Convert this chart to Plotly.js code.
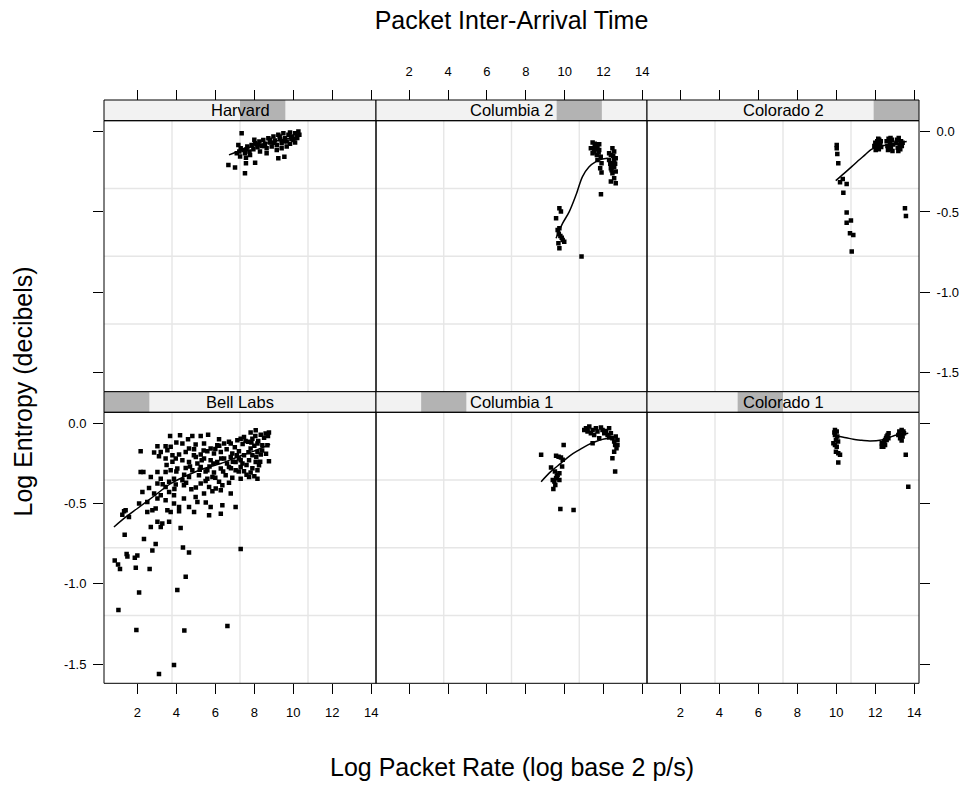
<!DOCTYPE html>
<html>
<head>
<meta charset="utf-8">
<script src="https://cdn.plot.ly/plotly-3.0.1.min.js"></script>
<style>
html,body{margin:0;padding:0;background:#fff;}
#chart{width:973px;height:785px;}
</style>
</head>
<body>
<div id="chart"></div>
<script>
// ---------------- DATA ----------------
const panelNames = ["Harvard", "Columbia 2", "Colorado 2", "Bell Labs", "Columbia 1", "Colorado 1"];
const shingleLevel = [3, 4, 5, 0, 1, 2];   // level of "Packet Inter-Arrival Time" shown in each strip
const xTickVals = [2, 4, 6, 8, 10, 12, 14];
const yTickVals = [0, -0.5, -1.0, -1.5];
const yTickText = ["0.0", "-0.5", "-1.0", "-1.5"];

const harvardPoints = [
  [7.10,-0.135],[7.23,-0.124],[7.30,-0.103],[7.44,-0.114],[7.52,-0.135],[7.64,-0.093],[7.75,-0.124],[7.86,-0.083],
  [7.95,-0.110],[8.04,-0.072],[8.16,-0.097],[8.26,-0.062],[8.38,-0.089],[8.46,-0.052],[8.55,-0.076],[8.63,-0.103],
  [8.72,-0.041],[8.81,-0.068],[8.89,-0.093],[8.98,-0.031],[9.06,-0.056],[9.15,-0.083],[9.23,-0.020],[9.32,-0.047],
  [9.40,-0.072],[9.49,-0.010],[9.57,-0.041],[9.66,-0.062],[9.75,-0.020],[9.83,-0.006],[9.92,-0.031],[10.00,-0.052],
  [10.09,-0.010],[10.17,-0.027],[10.26,0.000],[10.31,-0.020],[9.40,-0.103],[9.66,-0.093],[9.15,-0.114],[8.29,-0.124],
  [8.63,-0.135],[7.78,-0.145],[7.27,-0.155],[9.83,-0.076],[10.09,-0.068],[7.35,-0.010],[7.18,-0.083],
  [8.00,-0.050],[8.50,-0.090],[9.00,-0.070],[9.50,-0.060],[9.90,-0.045],[10.20,-0.040],[7.60,-0.110],[8.20,-0.080],
  [8.80,-0.050],[9.30,-0.030],
  [6.67,-0.207],[7.01,-0.224],[7.52,-0.259],[7.57,-0.197],[8.04,-0.193],[7.57,-0.162],[9.23,-0.166],[9.54,-0.156]
];
const harvardFit = [[6.7,-0.145],[7.3,-0.118],[7.9,-0.093],[8.5,-0.075],[9.1,-0.058],[9.7,-0.043],[10.3,-0.030]];

const columbia2Points = [
  [9.73,-0.477],[9.81,-0.498],[9.56,-0.539],[9.73,-0.602],[9.64,-0.612],[9.78,-0.649],[9.90,-0.674],[9.68,-0.695],
  [9.73,-0.726],[9.98,-0.685],[9.85,-0.660],[9.70,-0.635],[10.87,-0.778],[11.87,-0.390],
  [11.44,-0.068],[11.61,-0.083],[11.52,-0.104],[11.69,-0.093],[11.78,-0.114],[11.52,-0.124],[11.66,-0.145],[11.44,-0.135],
  [11.86,-0.156],[11.69,-0.176],[11.90,-0.197],[11.83,-0.228],[11.90,-0.255],[11.35,-0.104],[11.78,-0.078],
  [12.46,-0.104],[12.55,-0.124],[12.38,-0.145],[12.63,-0.166],[12.29,-0.176],[12.46,-0.197],[12.55,-0.218],[12.38,-0.228],
  [12.63,-0.249],[12.46,-0.259],[12.55,-0.290],[12.38,-0.311],[12.63,-0.322],[12.29,-0.135],[12.55,-0.176],
  [11.55,-0.075],[11.75,-0.130],[12.50,-0.150],[12.60,-0.200],[12.42,-0.240],[11.62,-0.110],[12.35,-0.200]
];
const columbia2Fit = [[9.56,-0.664],[9.9,-0.570],[10.24,-0.498],[10.6,-0.390],[10.92,-0.280],[11.25,-0.220],[11.61,-0.187],[11.9,-0.172],[12.21,-0.166]];

const colorado2Points = [
  [10.02,-0.083],[10.02,-0.104],[10.05,-0.139],[10.10,-0.197],[10.19,-0.315],[10.33,-0.295],[10.53,-0.326],[10.36,-0.380],
  [10.53,-0.504],[10.53,-0.567],[10.75,-0.554],[10.70,-0.633],[10.87,-0.643],[10.79,-0.747],
  [13.52,-0.477],[13.57,-0.525],
  [11.95,-0.090],[12.00,-0.070],[12.05,-0.100],[12.10,-0.060],[12.12,-0.085],[12.18,-0.110],[12.20,-0.050],[12.25,-0.075],
  [12.30,-0.095],[12.02,-0.115],[12.15,-0.045],[12.28,-0.060],
  [12.58,-0.060],[12.62,-0.090],[12.68,-0.045],[12.70,-0.110],[12.75,-0.070],[12.80,-0.095],[12.85,-0.050],[12.88,-0.120],
  [12.92,-0.080],[12.65,-0.115],[12.78,-0.040],
  [13.08,-0.070],[13.12,-0.050],[13.15,-0.100],[13.20,-0.040],[13.25,-0.085],[13.28,-0.110],[13.32,-0.060],[13.36,-0.090],
  [13.18,-0.120],[13.40,-0.070]
];
const colorado2Fit = [[9.97,-0.305],[10.4,-0.260],[10.79,-0.218],[11.13,-0.180],[11.47,-0.145],[11.8,-0.110],[12.07,-0.097],[12.45,-0.087],[12.84,-0.077],[13.2,-0.070],[13.61,-0.062]];

const bellLabsPoints = [
  [3.68,-0.079],[4.19,-0.075],[4.82,-0.079],[5.25,-0.079],[5.63,-0.071],[6.19,-0.100],[6.70,-0.116],[7.30,-0.096],
  [7.81,-0.058],[8.07,-0.044],[8.33,-0.071],[8.75,-0.058],[8.58,-0.064],
  [4.31,-0.127],[3.03,-0.143],[3.45,-0.143],[3.71,-0.147],[4.65,-0.158],[4.99,-0.133],[5.42,-0.127],[5.76,-0.158],
  [6.10,-0.137],[6.45,-0.127],[6.79,-0.127],[7.13,-0.106],[7.47,-0.085],[7.68,-0.116],[7.90,-0.096],[8.16,-0.127],
  [8.41,-0.137],[8.67,-0.137],
  [2.17,-0.174],[2.86,-0.183],[3.20,-0.179],[3.54,-0.168],[3.80,-0.199],[4.14,-0.195],[4.48,-0.179],[4.91,-0.162],
  [5.25,-0.195],[5.59,-0.174],[5.93,-0.189],[6.28,-0.179],[6.58,-0.162],[6.87,-0.189],[7.21,-0.174],[7.47,-0.199],
  [7.81,-0.158],[8.16,-0.179],[8.33,-0.195],[7.90,-0.199],
  [3.11,-0.206],[3.45,-0.220],[3.97,-0.220],[4.31,-0.230],[4.65,-0.241],[5.08,-0.251],[5.42,-0.220],[5.76,-0.230],
  [6.10,-0.241],[6.45,-0.220],[6.79,-0.210],[7.04,-0.241],[7.39,-0.251],[7.73,-0.230],[8.07,-0.241],[8.24,-0.262],
  [8.75,-0.237],[7.21,-0.220],
  [2.17,-0.303],[2.31,-0.303],[3.03,-0.303],[3.45,-0.303],[3.71,-0.293],[4.05,-0.282],[4.48,-0.278],[4.82,-0.293],
  [5.25,-0.272],[5.59,-0.293],[5.93,-0.307],[6.28,-0.282],[6.70,-0.272],[7.04,-0.293],[7.47,-0.299],[7.81,-0.307],
  [8.16,-0.293],[7.30,-0.272],
  [2.69,-0.334],[3.20,-0.345],[3.63,-0.365],[3.88,-0.345],[4.31,-0.355],[4.65,-0.334],[5.16,-0.324],[5.59,-0.345],
  [5.85,-0.334],[6.19,-0.365],[6.53,-0.324],[6.87,-0.340],[7.30,-0.345],[8.16,-0.345],[7.73,-0.334],
  [2.60,-0.403],[3.03,-0.376],[3.45,-0.397],[3.97,-0.382],[4.39,-0.386],[4.77,-0.411],[5.25,-0.376],[5.68,-0.397],
  [6.02,-0.407],[6.36,-0.386],[6.79,-0.438],
  [2.26,-0.428],[2.86,-0.438],[3.20,-0.448],[3.63,-0.428],[3.88,-0.448],[4.39,-0.469],[4.99,-0.459],[5.42,-0.438],
  [5.85,-0.423],[6.28,-0.417],
  [2.09,-0.500],[2.51,-0.490],[3.03,-0.469],[3.45,-0.480],[3.88,-0.500],[4.14,-0.521],[4.65,-0.521],[5.08,-0.490],
  [5.51,-0.494],[5.76,-0.521],[6.36,-0.511],[7.04,-0.521],
  [1.32,-0.548],[1.40,-0.542],[1.57,-0.583],[1.23,-0.569],[2.51,-0.552],[2.77,-0.542],[2.94,-0.531],[3.54,-0.542],
  [3.71,-0.552],[4.14,-0.548],[4.91,-0.552],[5.68,-0.573],[6.28,-0.563],
  [2.69,-0.646],[3.03,-0.614],[3.28,-0.625],[3.20,-0.646],[3.63,-0.614],[4.22,-0.652],
  [1.35,-0.694],[2.34,-0.720],[2.94,-0.752],[2.77,-0.793],[4.34,-0.774],[4.65,-0.805],[7.30,-0.783],[1.45,-0.814],
  [1.49,-0.830],[1.87,-0.837],[2.00,-0.824],[0.84,-0.855],[1.01,-0.880],[1.11,-0.907],[1.92,-0.899],[2.63,-0.907],
  [4.48,-0.955],[4.05,-1.038],[2.09,-1.054],[1.03,-1.162],[1.95,-1.287],[4.41,-1.291],[6.62,-1.262],[3.88,-1.505],
  [3.11,-1.561],
  [4.00,-0.120],[4.60,-0.100],[5.00,-0.210],[5.30,-0.230],[5.50,-0.300],[5.90,-0.250],[6.00,-0.160],[6.30,-0.220],
  [6.60,-0.250],[6.80,-0.280],[7.00,-0.150],[7.10,-0.200],[7.30,-0.230],[7.40,-0.130],[7.60,-0.260],[7.70,-0.180],
  [7.90,-0.280],[8.00,-0.140],[8.10,-0.210],[8.20,-0.110],[8.30,-0.240],[8.40,-0.170],[8.50,-0.090],[8.60,-0.190],
  [8.70,-0.080],[7.85,-0.120],[8.05,-0.080],[7.55,-0.110],[6.90,-0.240],[6.40,-0.300],[5.70,-0.270],[5.20,-0.290],
  [4.70,-0.270],[4.40,-0.320],[4.00,-0.300],[3.80,-0.240],[3.50,-0.260],[4.90,-0.200],[5.40,-0.170],[6.20,-0.140],
  [3.30,-0.380],[3.90,-0.410],[4.50,-0.370],[5.00,-0.400],[5.50,-0.360],[6.00,-0.340],[6.70,-0.370],[7.20,-0.300],
  [7.60,-0.320],[8.00,-0.330]
];
const bellLabsFit = [[0.80,-0.646],[1.4,-0.585],[2.0,-0.531],[2.86,-0.453],[3.71,-0.376],[4.57,-0.324],[5.42,-0.282],[6.28,-0.251],[7.13,-0.210],[7.98,-0.174],[8.81,-0.131]];

const columbia1Points = [
  [8.79,-0.197],[9.95,-0.135],[9.56,-0.202],[9.69,-0.208],[9.81,-0.214],[9.90,-0.228],[9.30,-0.276],[9.87,-0.270],
  [9.73,-0.311],[9.64,-0.322],[9.56,-0.343],[9.73,-0.353],[9.47,-0.363],[9.52,-0.384],[9.42,-0.409],[9.39,-0.353],
  [9.78,-0.534],[10.46,-0.540],[9.60,-0.330],[9.50,-0.300],
  [11.10,-0.031],[11.27,-0.021],[11.44,-0.042],[11.18,-0.052],[11.35,-0.062],[11.52,-0.073],[11.69,-0.052],[11.87,-0.027],
  [11.95,-0.042],[12.12,-0.048],[12.04,-0.062],[12.21,-0.073],[12.38,-0.062],[12.29,-0.089],[12.46,-0.094],[12.55,-0.114],
  [12.63,-0.083],[12.60,-0.135],[12.67,-0.156],[12.55,-0.177],[12.46,-0.218],[12.60,-0.301],[11.78,-0.094],[11.44,-0.125],
  [11.61,-0.031],[12.29,-0.031],[12.72,-0.104],[12.72,-0.135],[11.18,-0.042],[11.01,-0.042]
];
const columbia1Fit = [[8.79,-0.364],[9.3,-0.300],[9.8,-0.250],[10.3,-0.200],[10.75,-0.166],[11.2,-0.135],[11.61,-0.114],[11.9,-0.102],[12.2,-0.095]];

const colorado1Points = [
  [9.93,-0.042],[10.02,-0.052],[9.93,-0.073],[10.05,-0.083],[9.98,-0.104],[9.85,-0.125],[9.93,-0.135],[10.02,-0.146],
  [9.98,-0.177],[10.10,-0.187],[10.19,-0.197],[10.10,-0.245],[9.90,-0.058],[10.09,-0.114],
  [12.33,-0.146],[12.38,-0.135],[12.41,-0.125],[12.46,-0.114],[12.50,-0.104],[12.55,-0.094],[12.58,-0.083],[12.63,-0.073],
  [12.68,-0.062],[12.41,-0.146],[12.58,-0.104],[12.50,-0.135],[12.67,-0.094],[12.33,-0.125],
  [13.23,-0.052],[13.35,-0.042],[13.44,-0.052],[13.30,-0.073],[13.40,-0.083],[13.27,-0.094],[13.35,-0.108],[13.47,-0.062],
  [13.18,-0.073],
  [13.56,-0.197],[13.69,-0.395]
];
const colorado1Fit = [[10.02,-0.079],[10.5,-0.090],[10.87,-0.100],[11.3,-0.106],[11.73,-0.110],[12.32,-0.104],[12.7,-0.090],[12.92,-0.079],[13.3,-0.070],[13.69,-0.062]];

const allPoints = [harvardPoints, columbia2Points, colorado2Points, bellLabsPoints, columbia1Points, colorado1Points];
const allFits = [harvardFit, columbia2Fit, colorado2Fit, bellLabsFit, columbia1Fit, colorado1Fit];

// ---------------- LAYOUT ----------------
const W = 973, H = 785;
const FONT = "'Liberation Sans', Arial, Helvetica, sans-serif";
const colPx = [[104, 376], [376, 647], [647, 919]];
const panelRowPx = [[120.7, 391.7], [412.3, 683.3]];
const stripRowPx = [[100, 120.7], [391.7, 412.3]];
const fx = p => p / W;
const fy = p => 1 - p / H;
const xRange = [0.29, 14.24];
const yRange = [-1.619, 0.068];

const traces = [];
const layout = {
  width: W, height: H, autosize: false,
  margin: {l: 0, r: 0, t: 0, b: 0, pad: 0},
  paper_bgcolor: '#ffffff',
  plot_bgcolor: 'rgba(0,0,0,0)',
  showlegend: false,
  font: {family: FONT, color: '#000'},
  title: {text: 'Packet Inter-Arrival Time', x: 511.5 / W, xanchor: 'center', xref: 'paper',
          y: fy(20), yanchor: 'middle', yref: 'paper', font: {family: FONT, size: 25, color: '#000'}},
  shapes: [],
  annotations: []
};

for (let i = 0; i < 6; i++) {
  const row = i < 3 ? 0 : 1;
  const col = i % 3;
  const xa = 'xaxis' + (i === 0 ? '' : i + 1);
  const ya = 'yaxis' + (i === 0 ? '' : i + 1);
  const xid = 'x' + (i === 0 ? '' : i + 1);
  const yid = 'y' + (i === 0 ? '' : i + 1);
  const xd = [fx(colPx[col][0]), fx(colPx[col][1])];
  const yd = [fy(panelRowPx[row][1]), fy(panelRowPx[row][0])];

  const xAxis = {
    domain: xd, range: xRange, tickmode: 'array', tickvals: xTickVals,
    ticks: 'outside', ticklen: 10, tickwidth: 1, tickcolor: '#000',
    showgrid: false, zeroline: false, showline: false, fixedrange: true,
    tickfont: {family: FONT, size: 13, color: '#000'}
  };
  if (row === 0) {
    Object.assign(xAxis, {anchor: 'free', position: fy(stripRowPx[0][0]), side: 'top', showticklabels: col === 1, ticklabelstandoff: 9});
  } else {
    Object.assign(xAxis, {anchor: yid, side: 'bottom', showticklabels: col !== 1, ticklabelstandoff: 7});
  }
  const yAxis = {
    domain: yd, range: yRange, tickmode: 'array', tickvals: yTickVals, ticktext: yTickText,
    ticklen: 10, tickwidth: 1, tickcolor: '#000', anchor: xid,
    showgrid: false, zeroline: false, showline: false, fixedrange: true,
    tickfont: {family: FONT, size: 13, color: '#000'}, ticklabelstandoff: 4
  };
  if (col === 0) { Object.assign(yAxis, {side: 'left', ticks: 'outside', showticklabels: row === 1}); }
  else if (col === 2) { Object.assign(yAxis, {side: 'right', ticks: 'outside', showticklabels: row === 0}); }
  else { Object.assign(yAxis, {ticks: '', showticklabels: false}); }
  layout[xa] = xAxis;
  layout[ya] = yAxis;

  // grid lines at quarters of the panel
  for (let k = 1; k <= 3; k++) {
    const gx = xd[0] + (xd[1] - xd[0]) * k / 4;
    const gy = yd[0] + (yd[1] - yd[0]) * k / 4;
    layout.shapes.push({type: 'line', xref: 'paper', yref: 'paper', x0: gx, x1: gx, y0: yd[0], y1: yd[1],
      line: {color: '#e6e6e6', width: 1.4}, layer: 'below'});
    layout.shapes.push({type: 'line', xref: 'paper', yref: 'paper', x0: xd[0], x1: xd[1], y0: gy, y1: gy,
      line: {color: '#e6e6e6', width: 1.4}, layer: 'below'});
  }
  // strip
  const sy = [fy(stripRowPx[row][1]), fy(stripRowPx[row][0])];
  layout.shapes.push({type: 'rect', xref: 'paper', yref: 'paper', x0: xd[0], x1: xd[1], y0: sy[0], y1: sy[1],
    fillcolor: '#f2f2f2', line: {width: 0}, layer: 'above'});
  const lv = shingleLevel[i];
  layout.shapes.push({type: 'rect', xref: 'paper', yref: 'paper',
    x0: xd[0] + (xd[1] - xd[0]) * lv / 6, x1: xd[0] + (xd[1] - xd[0]) * (lv + 1) / 6, y0: sy[0], y1: sy[1],
    fillcolor: '#b3b3b3', line: {width: 0}, layer: 'above'});
  layout.shapes.push({type: 'rect', xref: 'paper', yref: 'paper', x0: xd[0], x1: xd[1], y0: sy[0], y1: sy[1],
    fillcolor: 'rgba(0,0,0,0)', line: {color: '#000', width: 1}, layer: 'above'});
  // panel border
  layout.shapes.push({type: 'rect', xref: 'paper', yref: 'paper', x0: xd[0], x1: xd[1], y0: yd[0], y1: yd[1],
    fillcolor: 'rgba(0,0,0,0)', line: {color: '#000', width: 1}, layer: 'above'});
  layout.annotations.push({text: panelNames[i], xref: 'paper', yref: 'paper', x: (xd[0] + xd[1]) / 2,
    y: (sy[0] + sy[1]) / 2, xanchor: 'center', yanchor: 'middle', showarrow: false,
    font: {family: FONT, size: 16.5, color: '#000'}});

  const pts = allPoints[i];
  traces.push({type: 'scatter', mode: 'markers', xaxis: xid, yaxis: yid,
    x: pts.map(p => p[0]), y: pts.map(p => p[1]),
    marker: {symbol: 'square', size: 4.5, color: '#000', line: {width: 0}}, hoverinfo: 'skip'});
  const fit = allFits[i];
  traces.push({type: 'scatter', mode: 'lines', xaxis: xid, yaxis: yid,
    x: fit.map(p => p[0]), y: fit.map(p => p[1]),
    line: {color: '#000', width: 1.5, shape: 'spline'}, hoverinfo: 'skip'});
}

layout.annotations.push({text: 'Log Packet Rate (log base 2 p/s)', xref: 'paper', yref: 'paper',
  x: 511.5 / W, y: fy(767), xanchor: 'center', yanchor: 'middle', showarrow: false,
  font: {family: FONT, size: 25, color: '#000'}});
layout.annotations.push({text: 'Log Entropy (decibels)', xref: 'paper', yref: 'paper',
  x: fx(22), y: fy(391.5), xanchor: 'center', yanchor: 'middle', showarrow: false, textangle: -90,
  font: {family: FONT, size: 25, color: '#000'}});

Plotly.newPlot('chart', traces, layout, {staticPlot: true, displayModeBar: false});
</script>
</body>
</html>
